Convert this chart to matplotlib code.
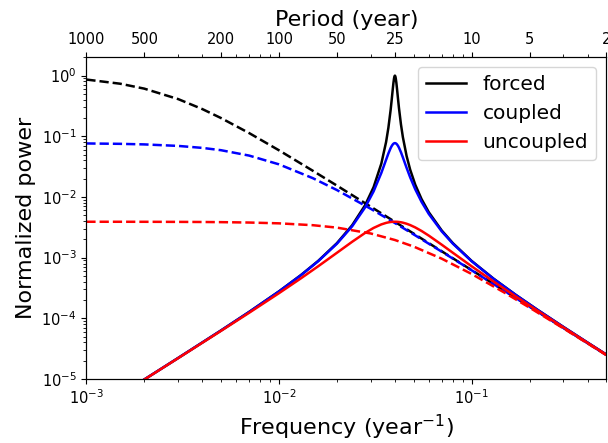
import matplotlib
matplotlib.use("Agg")
import matplotlib.pyplot as plt
from matplotlib.ticker import FixedLocator, FixedFormatter, NullFormatter, LogLocator

# ---- data ----
freq_dashed = [0.001, 0.0015, 0.002, 0.003, 0.004, 0.005, 0.007, 0.01, 0.015, 0.02,
               0.03, 0.04, 0.05, 0.07, 0.1, 0.15, 0.2, 0.3, 0.4, 0.5]
forced_dashed = [0.862, 0.735, 0.610, 0.410, 0.281, 0.200, 0.1131, 0.0588, 0.0270, 0.01538,
                 0.006897, 0.003891, 0.002494, 0.001274, 6.246e-4, 2.777e-4, 1.562e-4,
                 6.944e-5, 3.906e-5, 2.500e-5]
coupled_dashed = [0.0762, 0.0751, 0.0735, 0.0694, 0.0644, 0.0590, 0.0481, 0.0345, 0.0204, 0.0130,
                  0.00637, 0.00372, 0.00242, 0.001255, 6.20e-4, 2.768e-4, 1.559e-4,
                  6.938e-5, 3.904e-5, 2.499e-5]
uncoupled_dashed = [3.904e-3, 3.901e-3, 3.897e-3, 3.884e-3, 3.868e-3, 3.846e-3, 3.790e-3, 3.676e-3,
                    3.425e-3, 3.125e-3, 2.500e-3, 1.953e-3, 1.524e-3, 9.615e-4, 5.388e-4,
                    2.593e-4, 1.502e-4, 6.823e-5, 3.868e-5, 2.484e-5]

freq_solid = [0.001, 0.002, 0.003, 0.005, 0.007, 0.01, 0.013, 0.016, 0.02, 0.024, 0.028, 0.031,
              0.034, 0.036, 0.037, 0.038, 0.0385, 0.039, 0.0393, 0.0396, 0.0398, 0.04, 0.0402,
              0.0404, 0.0407, 0.041, 0.0415, 0.042, 0.043, 0.044, 0.046, 0.048, 0.051, 0.055,
              0.06, 0.07, 0.08, 0.1, 0.13, 0.17, 0.22, 0.3, 0.4, 0.5]
forced_solid = [2.4445e-6, 9.815e-6, 2.222e-5, 6.298e-5, 1.2729e-4, 2.777e-4, 5.155e-4, 8.850e-4,
                1.733e-3, 3.421e-3, 7.305e-3, 0.014496, 0.03535, 0.08058, 0.13819, 0.27052,
                0.40053, 0.60368, 0.75803, 0.90626, 0.97492, 1.0, 0.97516, 0.90794, 0.76439,
                0.61558, 0.41868, 0.29073, 0.15711, 0.09680, 0.04732, 0.02823, 0.015965,
                9.225e-3, 5.594e-3, 2.804e-3, 1.733e-3, 8.850e-4, 4.510e-4, 2.4230e-4,
                1.3809e-4, 7.198e-5, 3.9854e-5, 2.5323e-5]
coupled_solid = [2.444e-6, 9.813e-6, 2.2216e-5, 6.294e-5, 1.2710e-4, 2.768e-4, 5.124e-4, 8.757e-4,
                 1.698e-3, 3.287e-3, 6.718e-3, 0.012355, 0.02485, 0.04104, 0.05209, 0.06387,
                 0.06917, 0.07344, 0.07531, 0.07655, 0.07701, 0.07716, 0.07701, 0.07656, 0.07537,
                 0.07361, 0.06969, 0.06494, 0.05457, 0.04486, 0.03022, 0.02111, 0.013405,
                 8.308e-3, 5.243e-3, 2.713e-3, 1.698e-3, 8.757e-4, 4.486e-4, 2.4160e-4,
                 1.3787e-4, 7.191e-5, 3.9835e-5, 2.5315e-5]
uncoupled_solid = [2.443e-6, 9.790e-6, 2.2096e-5, 6.199e-5, 1.2329e-4, 2.593e-4, 4.556e-4, 7.221e-4,
                   1.202e-3, 1.827e-3, 2.552e-3, 3.087e-3, 3.530e-3, 3.740e-3, 3.813e-3, 3.866e-3,
                   3.883e-3, 3.896e-3, 3.901e-3, 3.905e-3, 3.906e-3, 3.906e-3, 3.906e-3, 3.905e-3,
                   3.901e-3, 3.897e-3, 3.885e-3, 3.869e-3, 3.826e-3, 3.769e-3, 3.621e-3, 3.443e-3,
                   3.148e-3, 2.752e-3, 2.305e-3, 1.635e-3, 1.202e-3, 7.221e-4, 4.045e-4, 2.2820e-4,
                   1.3340e-4, 7.068e-5, 3.9453e-5, 2.5160e-5]

series_labels = ["forced", "coupled", "uncoupled"]
series_colors = ["k", "b", "r"]

period_ticks = [1000, 500, 200, 100, 50, 25, 10, 5, 2]
period_labels = ["1000", "500", "200", "100", "50", "25", "10", "5", "2"]

# ---- figure ----
fig = plt.figure(figsize=(6.08, 4.43), dpi=100)
ax = fig.add_axes([0.142, 0.1445, 0.855, 0.7275])

solids = [forced_solid, coupled_solid, uncoupled_solid]
dasheds = [forced_dashed, coupled_dashed, uncoupled_dashed]
for s, d, lab, c in zip(solids, dasheds, series_labels, series_colors):
    ax.plot(freq_solid, s, color=c, lw=1.8, label=lab)
    ax.plot(freq_dashed, d, color=c, lw=1.8, ls="--")

ax.set_xscale("log")
ax.set_yscale("log")
ax.set_xlim(1e-3, 0.5)
ax.set_ylim(1e-5, 2.05)
ax.yaxis.set_minor_locator(LogLocator(base=10, subs=range(2, 10), numticks=20))
ax.tick_params(labelsize=10.5)
ax.set_xlabel("Frequency (year$^{-1}$)", fontsize=16)
ax.set_ylabel("Normalized power", fontsize=16)

leg = ax.legend(loc="upper right", fontsize=14.5)

# top period axis
ax2 = ax.twiny()
ax2.set_xscale("log")
ax2.set_xlim(ax.get_xlim())
ax2.xaxis.set_major_locator(FixedLocator([1.0 / p for p in period_ticks]))
ax2.xaxis.set_major_formatter(FixedFormatter(period_labels))
ax2.xaxis.set_minor_locator(LogLocator(base=10, subs=range(2, 10), numticks=20))
ax2.xaxis.set_minor_formatter(NullFormatter())
ax2.tick_params(labelsize=10.5)
ax2.set_xlabel("Period (year)", fontsize=16)

fig.savefig("out.png", dpi=100)
